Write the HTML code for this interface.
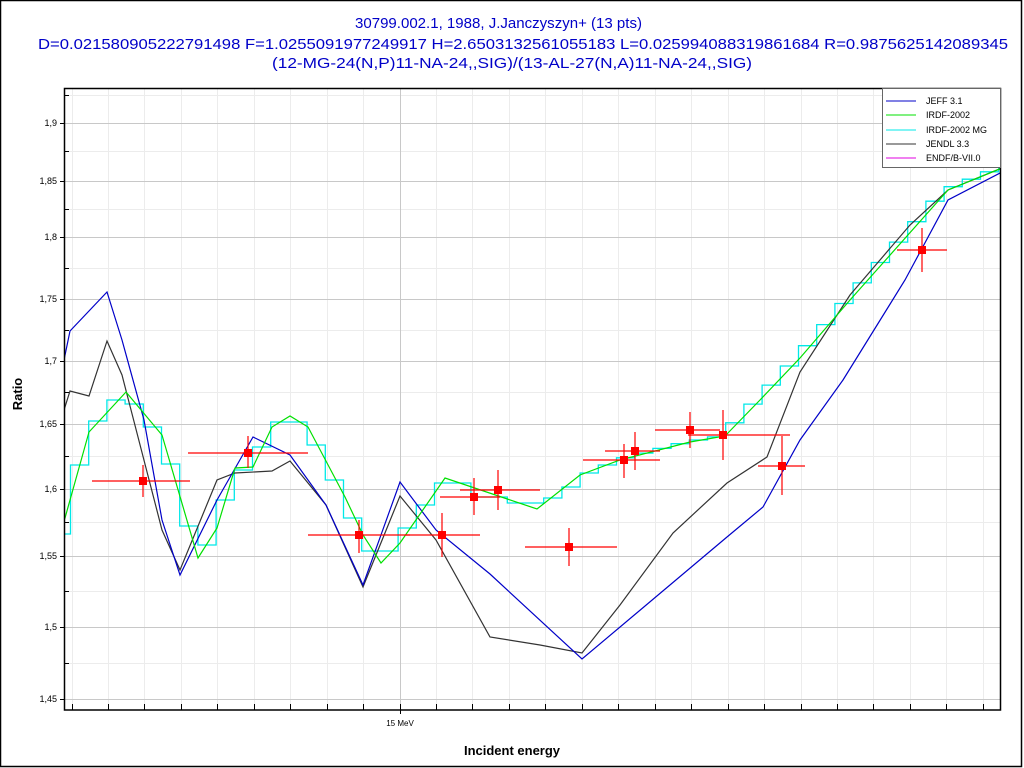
<!DOCTYPE html>
<html><head><meta charset="utf-8"><style>
html,body{margin:0;padding:0;background:#fff;}
svg{display:block;font-family:"Liberation Sans",Arial,sans-serif;}
</style></head><body>
<svg id="s" width="1024" height="768" xmlns="http://www.w3.org/2000/svg">
<rect x="0.5" y="0.5" width="1021" height="766" fill="#fff" stroke="#000" stroke-width="1.5"/>
<g id="grid"></g>
<g id="series"></g>
<rect x="64.5" y="88.5" width="936" height="621.5" fill="none" stroke="#000" stroke-width="1.5"/>
<g id="axes" font-size="9" fill="#000"></g>
<g fill="#0000c8" font-size="15">
<text x="355" y="28" textLength="287" lengthAdjust="spacingAndGlyphs">30799.002.1, 1988, J.Janczyszyn+ (13 pts)</text>
<text x="38" y="49" textLength="970" lengthAdjust="spacingAndGlyphs">D=0.021580905222791498 F=1.0255091977249917 H=2.6503132561055183 L=0.025994088319861684 R=0.9875625142089345</text>
<text x="272" y="68" textLength="480" lengthAdjust="spacingAndGlyphs">(12-MG-24(N,P)11-NA-24,,SIG)/(13-AL-27(N,A)11-NA-24,,SIG)</text>
</g>
<text x="512" y="755" font-size="13" font-weight="bold" text-anchor="middle">Incident energy</text>
<text transform="translate(22,394) rotate(-90)" font-size="13" font-weight="bold" text-anchor="middle">Ratio</text>
<g id="legend">
<rect x="882.5" y="88.5" width="118" height="79" fill="#fff" stroke="#666"/>
<g font-size="9" fill="#000">
<line x1="886" y1="101" x2="916" y2="101" stroke="#0000c8"/><text x="926" y="104">JEFF 3.1</text>
<line x1="886" y1="115" x2="916" y2="115" stroke="#00e000"/><text x="926" y="118">IRDF-2002</text>
<line x1="886" y1="130" x2="916" y2="130" stroke="#00e8e8"/><text x="926" y="133">IRDF-2002 MG</text>
<line x1="886" y1="144" x2="916" y2="144" stroke="#333"/><text x="926" y="147">JENDL 3.3</text>
<line x1="886" y1="158" x2="916" y2="158" stroke="#e000e0"/><text x="926" y="161">ENDF/B-VII.0</text>
</g></g>
</svg>
<script>
const NS="http://www.w3.org/2000/svg";
function el(p,t,a,txt){const e=document.createElementNS(NS,t);for(const k in a)e.setAttribute(k,a[k]);if(txt!==undefined)e.textContent=txt;p.appendChild(e);return e;}
const g=document.getElementById('grid'),ax=document.getElementById('axes'),se=document.getElementById('series');
const ym=[[1.9,123],[1.85,181],[1.8,237],[1.75,299],[1.7,361],[1.65,424],[1.6,489],[1.55,556],[1.5,627],[1.45,699]];
const yminor=[95,151,209,268,330,392,456,522,591,663];
yminor.forEach(y=>{el(g,'line',{x1:65,x2:1000,y1:y+.5,y2:y+.5,stroke:'#ececec'});el(ax,'line',{x1:65,x2:69,y1:y+.5,y2:y+.5,stroke:'#000'});});
for(let k=0;k<26;k++){const x=Math.round(71.5+k*36.45)+.5;
 if(x>999)break;
 el(g,'line',{x1:x,x2:x,y1:89,y2:709,stroke:k==9?'#c8c8c8':'#ececec'});
 el(ax,'line',{x1:x,x2:x,y1:704,y2:k==9?714:710,stroke:'#000'});}
ym.forEach(([v,y])=>{el(g,'line',{x1:65,x2:1000,y1:y+.5,y2:y+.5,stroke:'#c8c8c8'});
 el(ax,'line',{x1:60,x2:65,y1:y+.5,y2:y+.5,stroke:'#000'});
 el(ax,'text',{x:57,y:y+3,'text-anchor':'end'},String(v).replace('.',','));});
el(ax,'text',{x:400,y:726,'text-anchor':'middle','font-size':'8'},'15 MeV');
const clip=el(se,'clipPath',{id:'c'});el(clip,'rect',{x:65,y:89,width:935,height:621});
const sg=el(se,'g',{'clip-path':'url(#c)'});
const green=[[64,520],[65,518],[89,432],[126,392],[162,435],[198,558],[217,528],[235,468],[253,467],[272,427],[290,416],[308,427],[345,497],[363,535],[381,563],[400,543],[445,478],[537,509],[580,475],[620,460],[690,442],[725,436],[760,400],[800,358],[850,300],[948,190],[1002,168]];
function interp(x){for(let i=1;i<green.length;i++){if(x<=green[i][0]){const[a,b]=green[i-1],[c,d]=green[i];return b+(d-b)*(x-a)/(c-a);}}return 168;}
const cyv=[534,465,421,400,404,427,464,526,545,500,470,447,422,422,445,480,518,551,551,528,505,483,483,497,497,503,503,498,487,473,465];
let cp='';const w=18.2;let x0=52.3;
for(let k=0;x0<1002;k++){const x1=x0+w;let y=k<cyv.length?cyv[k]:interp(x0+w/2+3);
 cp+=(k==0?'M':'L')+x0.toFixed(1)+','+y.toFixed(1)+'L'+x1.toFixed(1)+','+y.toFixed(1);x0=x1;}
el(sg,'path',{d:cp,fill:'none',stroke:'#00e8e8','stroke-width':1.3});
const pl=(pts,c)=>el(sg,'polyline',{points:pts.map(p=>p.join(',')).join(' '),fill:'none',stroke:c,'stroke-width':1.2});
pl([[64,410],[70,391],[89,396],[107,341],[122,375],[162,530],[180,570],[217,480],[235,473],[272,471],[290,461],[326,505],[363,587],[400,496],[436,540],[490,637],[540,645],[582,653],[620,605],[673,533],[727,483],[767,457],[800,372],[850,295],[910,225],[948,190],[1002,168]],'#333');
pl([[64,360],[70,331],[107,292],[122,340],[144,420],[162,520],[180,575],[217,500],[253,437],[290,455],[326,505],[363,585],[400,482],[436,530],[490,574],[582,659],[727,537],[763,507],[800,440],[843,380],[905,280],[948,200],[1002,172]],'#0000c8');
pl(green,'#00e000');
const pts=[[143,481,92,190,465,497],[248,453,188,308,436,468],[359,535,308,410,520,553],[442,535,405,480,513,557],[474,497,440,500,478,515],[498,490,460,540,470,510],[569,547,525,617,528,566],[624,460,583,660,444,478],[635,451,605,660,432,470],[690,430,655,720,412,448],[723,435,688,790,410,460],[782,466,758,805,436,495],[922,250,897,947,228,272]];
pts.forEach(([x,y,a,b,c,d])=>{el(sg,'line',{x1:a,x2:b,y1:y,y2:y,stroke:'#ff0000','stroke-width':1.2});el(sg,'line',{x1:x,x2:x,y1:c,y2:d,stroke:'#ff0000','stroke-width':1.2});el(sg,'rect',{x:x-4,y:y-4,width:8,height:8,fill:'#ff0000'});});
</script>
</body></html>
